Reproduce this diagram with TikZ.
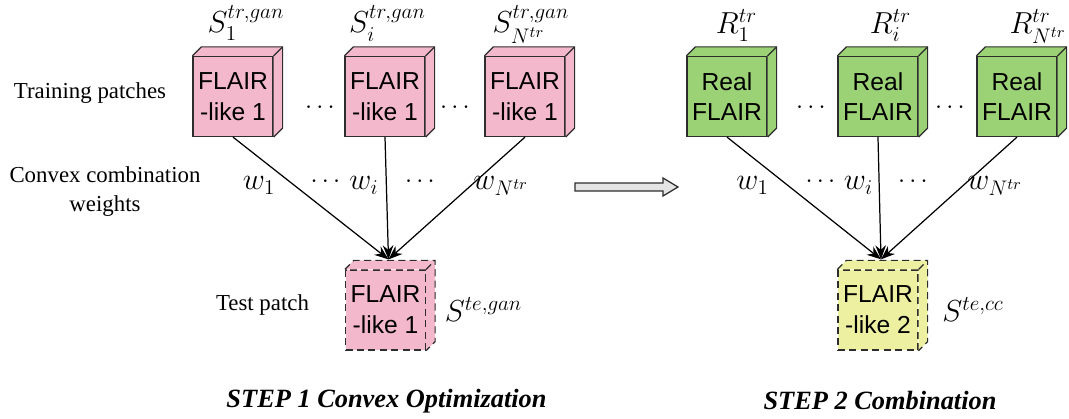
\documentclass[tikz,border=0pt]{standalone}
\usepackage[no-math]{fontspec}
\setmainfont{Liberation Serif}
\setsansfont{Liberation Sans}
\usepackage{amsmath}
\usetikzlibrary{arrows.meta, positioning}
\definecolor{patchpink}{RGB}{244,184,204}
\definecolor{patchgreen}{RGB}{156,210,118}
\definecolor{patchyellow}{RGB}{236,240,160}
\definecolor{edgegray}{RGB}{45,45,45}
\definecolor{arrowgray}{RGB}{228,228,228}

\begin{document}
\begin{tikzpicture}[
    patch/.style={draw=edgegray, line width=0.7pt, minimum width=1.6cm,
                  minimum height=1.6cm, inner sep=0pt, align=center,
                  font=\fontsize{14}{17.5}\selectfont\sffamily},
    testline/.style={dash pattern=on 4pt off 2.5pt},
    face/.style={draw=edgegray, line width=0.7pt},
    mlbl/.style={font=\fontsize{17.5}{21}\selectfont, anchor=base, inner sep=0pt},
    dotlbl/.style={font=\fontsize{14}{17}\selectfont, anchor=base, inner sep=0pt},
    side/.style={font=\fontsize{13}{16.5}\selectfont, align=center},
    title/.style={font=\fontsize{15}{18}\selectfont\bfseries\itshape},
    wire/.style={line width=0.7pt, -{Stealth[length=8pt, width=6pt]}},
]
  \useasboundingbox (0,0) rectangle (21.38,8.38);

  % ---- Step 1: training patches ----
  \node[patch, fill=patchpink] (s1) at (4.66, 6.45) {FLAIR\\-like 1};
  \node[patch, fill=patchpink] (si) at (7.70, 6.45) {FLAIR\\-like 1};
  \node[patch, fill=patchpink] (sn) at (10.50, 6.45) {FLAIR\\-like 1};

  % ---- Step 2: real patches ----
  \node[patch, fill=patchgreen] (r1) at (14.54, 6.45) {Real\\FLAIR};
  \node[patch, fill=patchgreen] (ri) at (17.56, 6.45) {Real\\FLAIR};
  \node[patch, fill=patchgreen] (rn) at (20.34, 6.45) {Real\\FLAIR};

  % ---- Test patches ----
  \node[patch, testline, fill=patchpink]   (t1) at (7.71, 2.18) {FLAIR\\-like 1};
  \node[patch, testline, fill=patchyellow] (t2) at (17.56, 2.18) {FLAIR\\-like 2};

  % ---- Box depth (top and side faces) ----
  \foreach \b/\c in {s1/patchpink, si/patchpink, sn/patchpink,
                     r1/patchgreen, ri/patchgreen, rn/patchgreen} {
    \fill[\c] (\b.north west) -- ++(0.18,0.18)
      -- ([shift={(0.18,0.18)}]\b.north east)
      -- ([shift={(0.18,0.18)}]\b.south east)
      -- (\b.south east) -- (\b.north east) -- cycle;
    \draw[face] (\b.north west) -- ++(0.18,0.18)
      -- ([shift={(0.18,0.18)}]\b.north east)
      -- ([shift={(0.18,0.18)}]\b.south east) -- (\b.south east);
    \draw[face] (\b.north east) -- ++(0.18,0.18);
  }
  \foreach \b/\c in {t1/patchpink, t2/patchyellow} {
    \fill[\c] (\b.north west) -- ++(0.18,0.18)
      -- ([shift={(0.18,0.18)}]\b.north east)
      -- ([shift={(0.18,0.18)}]\b.south east)
      -- (\b.south east) -- (\b.north east) -- cycle;
    \draw[face, testline] (\b.north west) -- ++(0.18,0.18)
      -- ([shift={(0.18,0.18)}]\b.north east)
      -- ([shift={(0.18,0.18)}]\b.south east) -- (\b.south east);
    \draw[face, testline] (\b.north east) -- ++(0.18,0.18);
  }

  % ---- Patch names ----
  \node[mlbl] (ls1) at (4.92, 7.72) {$S_1^{tr,gan}$};
  \node[mlbl] (lsi) at (7.75, 7.72) {$S_i^{tr,gan}$};
  \node[mlbl] (lsn) at (10.62, 7.72) {$S_{N^{tr}}^{tr,gan}$};
  \node[mlbl] (lr1) at (14.73, 7.70) {$R_1^{tr}$};
  \node[mlbl] (lri) at (17.81, 7.70) {$R_i^{tr}$};
  \node[mlbl] (lrn) at (20.76, 7.70) {$R_{N^{tr}}^{tr}$};
  \node[mlbl] (lt1) at (9.67, 1.94) {$S^{te,gan}$};
  \node[mlbl] (lt2) at (19.46, 1.94) {$S^{te,cc}$};

  % ---- Dots between patches ----
  \node[dotlbl] (ds1) at (6.44, 6.10) {$\cdots$};
  \node[dotlbl] (ds2) at (9.14, 6.10) {$\cdots$};
  \node[dotlbl] (dr1) at (16.26, 6.10) {$\cdots$};
  \node[dotlbl] (dr2) at (19.04, 6.10) {$\cdots$};

  % ---- Weights ----
  \coordinate (t1in) at ([shift={(0.06,0.2)}]t1.north);
  \coordinate (t2in) at ([shift={(0.06,0.2)}]t2.north);
  \foreach \b in {s1, si, sn} \draw[wire] (\b.south) -- (t1in);
  \foreach \b in {r1, ri, rn} \draw[wire] (\b.south) -- (t2in);

  \node[mlbl]   (w1)  at (5.18, 4.58) {$w_1$};
  \node[dotlbl] (dw1) at (6.55, 4.62) {$\cdots$};
  \node[mlbl]   (wi)  at (7.28, 4.58) {$w_i$};
  \node[dotlbl] (dw2) at (8.44, 4.62) {$\cdots$};
  \node[mlbl]   (wn)  at (10.02, 4.58) {$w_{N^{tr}}$};

  \node[mlbl]   (v1)  at (15.05, 4.58) {$w_1$};
  \node[dotlbl] (dv1) at (16.45, 4.62) {$\cdots$};
  \node[mlbl]   (vi)  at (17.17, 4.58) {$w_i$};
  \node[dotlbl] (dv2) at (18.30, 4.62) {$\cdots$};
  \node[mlbl]   (vn)  at (19.90, 4.58) {$w_{N^{tr}}$};

  % ---- Row labels ----
  \node[side] (train) at (1.80, 6.52) {Training patches};
  \node[side] (conv)  at (2.10, 4.54) {Convex combination\\weights};
  \node[side] (test)  at (5.25, 2.28) {Test patch};

  % ---- Step arrow ----
  \draw[face, fill=arrowgray] (11.50,4.72) -- (13.26,4.72) -- (13.26,4.82)
    -- (13.56,4.64) -- (13.26,4.46) -- (13.26,4.56) -- (11.50,4.56) -- cycle;

  % ---- Titles ----
  \node[title] (step1) at (7.73, 0.36) {STEP 1 Convex Optimization};
  \node[title] (step2) at (17.60, 0.36) {STEP 2 Combination};

\end{tikzpicture}
\end{document}
